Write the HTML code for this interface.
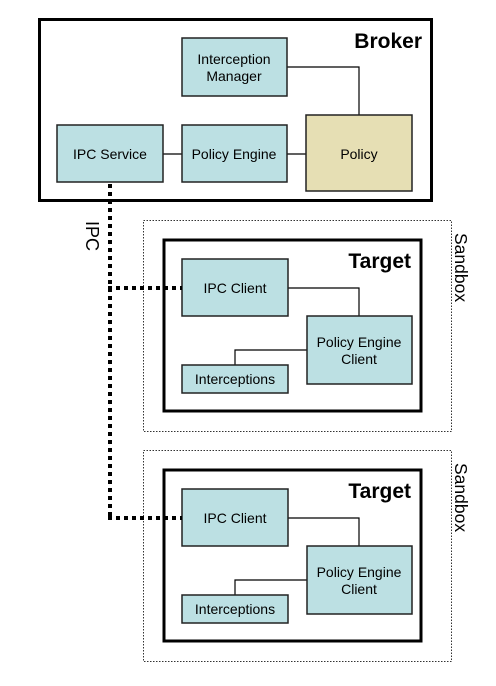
<!DOCTYPE html>
<html><head><style>body{margin:0;background:#fff}svg{display:block}text{font-family:"Liberation Sans",Arial,sans-serif;fill:#000}</style></head>
<body>
<svg width="496" height="686" viewBox="0 0 496 686">
<defs>
<g id="sb">
<rect x="143.5" y="220.5" width="308" height="211" fill="none" stroke="#333" stroke-width="1" stroke-dasharray="1.5,1.5"/>
<rect x="164" y="240" width="257" height="171" fill="#fff" stroke="#000" stroke-width="3"/>
<text x="411" y="268" font-size="21" font-weight="bold" text-anchor="end">Target</text>
<polyline points="288,288 359,288 359,316" fill="none" stroke="#000" stroke-width="1.2"/>
<polyline points="307,350 235,350 235,365" fill="none" stroke="#000" stroke-width="1.2"/>
<rect x="182" y="259" width="106" height="57" fill="#bce0e3" stroke="#222" stroke-width="1.5"/>
<text x="235" y="293" font-size="14" text-anchor="middle">IPC Client</text>
<rect x="307" y="316" width="105" height="68" fill="#bce0e3" stroke="#222" stroke-width="1.5"/>
<text x="359" y="347" font-size="14" text-anchor="middle">Policy Engine</text>
<text x="359" y="364" font-size="14" text-anchor="middle">Client</text>
<rect x="182" y="365" width="106" height="28" fill="#bce0e3" stroke="#222" stroke-width="1.5"/>
<text x="235" y="384" font-size="14" text-anchor="middle">Interceptions</text>
<text transform="translate(455,233) rotate(90)" font-size="17.5">Sandbox</text>
</g>
</defs>
<rect x="39.5" y="19.5" width="392" height="181" fill="#fff" stroke="#000" stroke-width="3"/>
<text x="422" y="48" font-size="21" font-weight="bold" text-anchor="end">Broker</text>
<polyline points="287,67 359,67 359,115" fill="none" stroke="#000" stroke-width="1.2"/>
<line x1="163" y1="154" x2="182" y2="154" stroke="#000" stroke-width="1.2"/>
<line x1="287" y1="154" x2="306" y2="154" stroke="#000" stroke-width="1.2"/>
<rect x="182" y="38" width="105" height="58" fill="#bce0e3" stroke="#222" stroke-width="1.5"/>
<text x="234" y="64" font-size="14" text-anchor="middle">Interception</text>
<text x="234" y="81" font-size="14" text-anchor="middle">Manager</text>
<rect x="57" y="125" width="106" height="57" fill="#bce0e3" stroke="#222" stroke-width="1.5"/>
<text x="110" y="159" font-size="14" text-anchor="middle">IPC Service</text>
<rect x="182" y="125" width="105" height="57" fill="#bce0e3" stroke="#222" stroke-width="1.5"/>
<text x="234" y="159" font-size="14" text-anchor="middle">Policy Engine</text>
<rect x="306" y="115" width="106" height="76" fill="#e6dfb4" stroke="#222" stroke-width="1.5"/>
<text x="359" y="159" font-size="14" text-anchor="middle">Policy</text>
<use href="#sb"/>
<use href="#sb" transform="translate(0,230)"/>
<g stroke="#000" stroke-width="4" stroke-dasharray="4,4" fill="none">
<line x1="110" y1="184" x2="110" y2="520"/>
<line x1="108" y1="288" x2="182" y2="288"/>
<line x1="108" y1="518" x2="182" y2="518"/>
</g>
<text transform="translate(86,221) rotate(90)" font-size="18">IPC</text>
</svg>
</body></html>
